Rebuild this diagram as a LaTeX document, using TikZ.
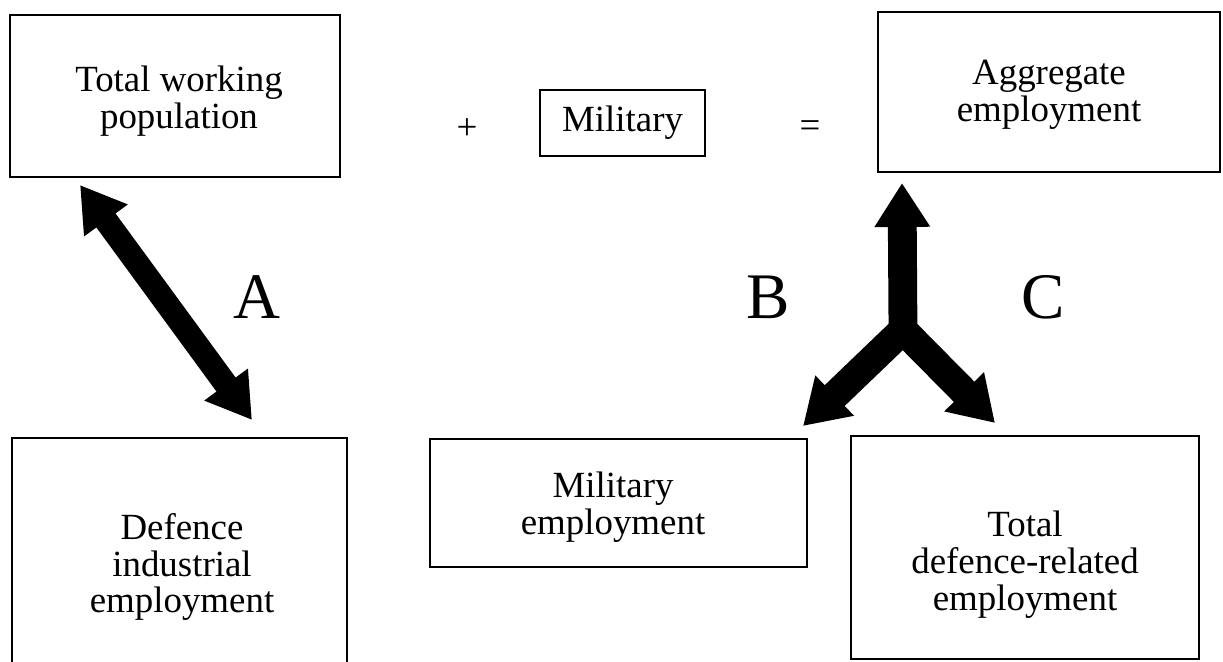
\documentclass[tikz,border=0pt]{standalone}
\usepackage{fontspec}
\setmainfont{Liberation Serif}
\usetikzlibrary{arrows.meta}
\tikzset{
  bx/.style={draw=black, line width=1.1pt, rectangle, inner sep=0pt, align=center,
             font=\fontsize{21}{21}\selectfont},
  txt/.style={inner sep=0pt, align=center, font=\fontsize{21}{21}\selectfont},
  big/.style={inner sep=0pt, font=\fontsize{37}{37}\selectfont},
  fatA/.style={line width=13.5pt, {Triangle[length=25pt,width=29pt]}-{Triangle[length=25pt,width=29pt]}},
  fatY/.style={line width=16.4pt},
}
\begin{document}
\begin{tikzpicture}[x=0.02cm,y=-0.02cm]
\useasboundingbox (0,0) rectangle (1223,662);
% top row
\node[bx, minimum width={330*0.02cm}, minimum height={162*0.02cm}] (twp) at (175,96) {};
\node[txt] (twptxt) at (179,101) {Total working\\population};
\node[txt] (plus) at (467,129) {+};
\node[bx, minimum width={165*0.02cm}, minimum height={66*0.02cm}] (mil) at (622.5,123) {Military};
\node[txt] (eq) at (810,129) {=};
\node[bx, minimum width={342*0.02cm}, minimum height={160*0.02cm}] (agg) at (1049,92) {};
\node[txt] (aggtxt) at (1049,95) {Aggregate\\employment};
% bottom row
\node[bx, minimum width={335*0.02cm}, minimum height={262*0.02cm}] (die) at (179.5,569) {};
\node[txt] (dietxt) at (182,567) {Defence\\industrial\\employment};
\node[bx, minimum width={377*0.02cm}, minimum height={128*0.02cm}] (me) at (618.5,503) {};
\node[txt] (metxt) at (613,507) {Military\\employment};
\node[bx, minimum width={348*0.02cm}, minimum height={223*0.02cm}] (tdre) at (1025,547.5) {};
\node[txt] (tdretxt) at (1025,565) {Total\\defence-related\\employment};
% letters
\node[big] (la) at (257,297) {A};
\node[big] (lb) at (768,297) {B};
\node[big] (lc) at (1043,297) {C};
% arrow A
\coordinate (a1) at (80,185);
\coordinate (a2) at (252,420);
\draw[fatA] (a1) -- (a2);
% Y arrow
\coordinate (yt) at (902,183);
\coordinate (yj) at (903,330);
\coordinate (yl) at (803,426);
\coordinate (yr) at (995,423);
\draw[fatY, -{Triangle[length=25pt,width=30pt]}] (yj) -- (yt);
\draw[fatY, line join=miter, {Triangle[length=25pt,width=30pt]}-{Triangle[length=25pt,width=30pt]}] (yl) -- (yj) -- (yr);
\end{tikzpicture}
\end{document}
